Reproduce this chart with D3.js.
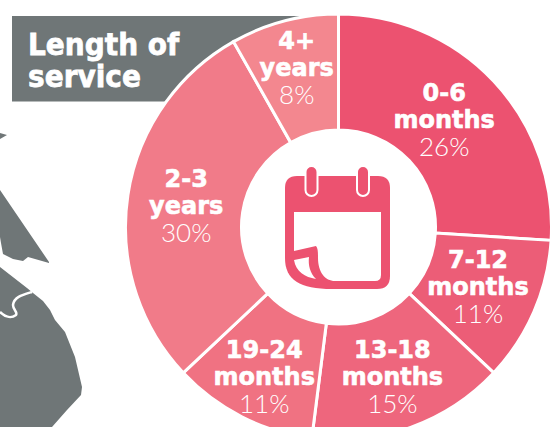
<!DOCTYPE html>
<html>
<head>
<meta charset="utf-8">
<script src="https://cdn.jsdelivr.net/npm/d3@7"></script>
<style>
  html, body { margin: 0; padding: 0; background: #fff; overflow: hidden; }
  text { fill: #fff; text-anchor: middle; }
  .name { font-family: "DejaVu Sans", sans-serif; font-weight: 700; font-size: 24px; stroke: #fff; stroke-width: 0.6px; }
  .pct { font-family: Lato, sans-serif; font-weight: 300; font-size: 26px; }
  .title { font-family: "DejaVu Sans", sans-serif; font-weight: 700; font-size: 28px; text-anchor: start; stroke: #fff; stroke-width: 0.7px; }
</style>
</head>
<body>
<div id="chart"></div>
<script>
const categories = [["0-6", "months"], ["7-12", "months"], ["13-18", "months"], ["19-24", "months"], ["2-3", "years"], ["4+", "years"]];
// slice sizes as measured, the printed labels add up to 101
const sliceValues = [26, 11, 15, 11, 28.8, 8.2];
const pctLabels = ["26%", "11%", "15%", "11%", "30%", "8%"];
const colors = ["#ec5270", "#ec5d77", "#ee667d", "#f07282", "#f17b89", "#f3878f"];
const titleLines = ["Length of", "service"];

const width = 558, height = 427;
const cx = 338.5, cy = 227, outerR = 213, innerR = 97;
const labelR = [145, 152, 159, 168, 154, 164];
const labelDx = [0, 0, 0, 2, 0, 0];
const labelDy = [-8, 0, 0, 0, 2, 0];
const grey = "#6f7677", pink = "#ec5270";

const svg = d3.select("#chart").append("svg")
    .attr("width", width)
    .attr("height", height);

// map behind the chart
const map = svg.append("g").attr("fill", grey);
map.append("path").attr("d", "M0,133L7,135L0,139Z");
map.append("path").attr("d", "M0,190L49,262L49,263L28,257L23,261L13,259L3,254L1,243L0,237Z");
map.append("path").attr("d", "M0,267L27,288L33,293L43,301L50,310L55,320L65,332L75,357L82,387L81,395L67,410L52,427L0,427Z");
map.append("path")
    .attr("d", "M32,292C22,295 14,297 13,305C13,310 18,312 16,315C12,318 6,318 0,312")
    .attr("fill", "none")
    .attr("stroke", "#fff")
    .attr("stroke-width", 2.5);

// title box
svg.append("rect")
    .attr("x", 12).attr("y", 16)
    .attr("width", 290).attr("height", 85.5)
    .attr("fill", grey);

svg.selectAll(".title")
    .data(titleLines)
    .enter().append("text")
    .attr("class", "title")
    // stretched a bit, the original face is taller than DejaVu
    .attr("transform", (d, i) => `translate(28, ${55 + i * 32}) scale(1, 1.1)`)
    .text(d => d);

const pie = d3.pie().sort(null);
const arc = d3.arc().innerRadius(innerR).outerRadius(outerR);

const g = svg.append("g").attr("transform", `translate(${cx}, ${cy})`);

g.selectAll("path")
    .data(pie(sliceValues))
    .enter().append("path")
    .attr("d", arc)
    .attr("fill", (d, i) => colors[i])
    .attr("stroke", "#fff")
    .attr("stroke-width", 3);

const labels = g.selectAll("g.label")
    .data(pie(sliceValues))
    .enter().append("g")
    .attr("class", "label")
    .attr("transform", (d, i) => {
        const a = (d.startAngle + d.endAngle) / 2;
        const x = labelR[i] * Math.sin(a) + labelDx[i];
        const y = -labelR[i] * Math.cos(a) + labelDy[i];
        return `translate(${x}, ${y})`;
    });

labels.append("text").attr("class", "name").attr("y", -19).text((d, i) => categories[i][0]);
labels.append("text").attr("class", "name").attr("y", 8).text((d, i) => categories[i][1]);
labels.append("text").attr("class", "pct").attr("y", 36).text((d, i) => pctLabels[i]);

// calendar icon
const icon = svg.append("g");
icon.append("path")
    .attr("fill", pink)
    .attr("d", "M297,176H378Q390,176 390,188V276Q390,289 377,289H332C300,289 285,280 285,258V188Q285,176 297,176Z");
icon.append("path")
    .attr("fill", "#fff")
    .attr("d", "M294,212H381V275Q381,281 375,281H335C325,281 318,272 318,258C318,253 318,248 316,246L294,251Z");
icon.append("path")
    .attr("fill", "#fff")
    .attr("d", "M294,260L309,257C308,265 310,273 316,279C305,277 296,272 294,260Z");
icon.selectAll("rect")
    .data([305.5, 357])
    .enter().append("rect")
    .attr("x", d => d).attr("y", 166)
    .attr("width", 12).attr("height", 30)
    .attr("rx", 6)
    .attr("fill", pink)
    .attr("stroke", "#fff")
    .attr("stroke-width", 2);
</script>
</body>
</html>
